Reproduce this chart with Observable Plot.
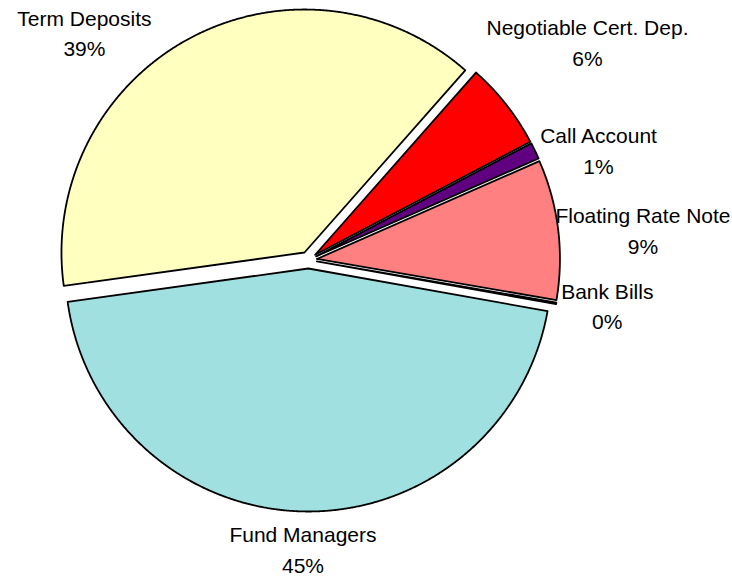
<!DOCTYPE html>
<html><head><meta charset="utf-8">
<script src="https://cdn.jsdelivr.net/npm/d3@7"></script>
<script src="https://cdn.jsdelivr.net/npm/@observablehq/plot@0.6"></script>
<style>html,body{margin:0;padding:0;background:#fff}</style>
</head><body><div id="chart"></div>
<script>
// ---- data ----
const categories = ["Term Deposits", "Negotiable Cert. Dep.", "Call Account", "Floating Rate Note", "Bank Bills", "Fund Managers"];
const values = [38.7, 5.8, 1.1, 9.3, 0.1, 45.0];
const colors = ["#ffffc0", "#ff0000", "#600080", "#ff8080", "#ccccff", "#a0e0e0"];

// ---- layout ----
const W = 732, H = 578;
const L = {cx: 308, cy: 259.5, r: 243, explode: 8.5, startDeg: 262.1, gap: 5, fontSize: 21, lineHeight: 1.45,
  marginX: 2, marginY: 5, font: "Liberation Sans, Arial, sans-serif"};

const total = d3.sum(values);
const data = categories.map((name, i) => ({name, value: values[i], color: colors[i]}));
const a0 = L.startDeg * Math.PI / 180;
const arcs = d3.pie().sort(null).value(d => d.value).startAngle(a0).endAngle(a0 + 2 * Math.PI)(data);

const ctx = document.createElement("canvas").getContext("2d");
ctx.font = `${L.fontSize}px "Liberation Sans"`;

const slices = arcs.map(a => {
  const mid = (a.startAngle + a.endAngle) / 2;
  const ax = L.cx + L.explode * Math.sin(mid), ay = L.cy - L.explode * Math.cos(mid);
  const n = Math.max(2, Math.ceil((a.endAngle - a.startAngle) / (0.25 * Math.PI / 180)));
  const pts = [{x: ax, y: ay}];
  for (let k = 0; k <= n; k++) {
    const t = a.startAngle + (a.endAngle - a.startAngle) * k / n;
    pts.push({x: ax + L.r * Math.sin(t), y: ay - L.r * Math.cos(t)});
  }
  pts.push({x: ax, y: ay});
  return {name: a.data.name, color: a.data.color, value: a.data.value, mid, ax, ay, pts};
});

// label placement: outside along the mid-angle; side labels are centred vertically on their anchor,
// others sit clear of the rim; then kept inside the frame (sliding along the edge to stay clear of the pie)
const labels = slices.map(s => {
  const pct = Math.round(s.value / total * 100) + "%";
  const lines = [s.name, pct];
  const w = Math.max(...lines.map(t => ctx.measureText(t).width));
  const lh = L.fontSize * L.lineHeight;
  const hw = w / 2, hh = lines.length * lh / 2;           // line box
  const gh = ((lines.length - 1) * lh + L.fontSize) / 2;  // glyph box
  const sx = Math.sin(s.mid), sy = -Math.cos(s.mid);
  let x, y;
  if (Math.abs(sy) < 0.5) {
    const px = s.ax + (L.r + L.gap) * sx, py = s.ay + (L.r + L.gap) * sy;
    x = px + Math.sign(sx) * hw; y = py;
  } else {
    const d = L.r + L.gap + Math.abs(sx) * hw + Math.abs(sy) * hh;
    x = s.ax + d * sx; y = s.ay + d * sy;
  }
  const clampX = v => Math.min(W - L.marginX - hw, Math.max(L.marginX + hw, v));
  const clampY = v => Math.min(H - L.marginY - gh, Math.max(L.marginY + gh, v));
  x = clampX(x);
  const y0 = y; y = clampY(y);
  if (y !== y0) {
    const hits = (x, y) => {
      const px = Math.min(x + hw, Math.max(x - hw, s.ax));
      const py = Math.min(y + gh, Math.max(y - gh, s.ay));
      return Math.hypot(px - s.ax, py - s.ay) < L.r + L.gap;
    };
    const dir = x < s.ax ? -1 : 1;
    for (let k = 0; k < 400 && hits(x, y); k++) {
      const nx = clampX(x + dir);
      if (nx === x) break;
      x = nx;
    }
  }
  return {x, y, text: lines.join("\n")};
});

const marks = slices.map(s => Plot.line(s.pts, {
  x: "x", y: "y", fill: s.color, stroke: "black", strokeWidth: 1.8, strokeLinejoin: "round", curve: "linear"
}));
marks.push(Plot.text(labels, {
  x: "x", y: "y", text: "text", fontSize: L.fontSize, lineHeight: L.lineHeight, fontFamily: L.font,
  fill: "#000", textAnchor: "middle", lineAnchor: "middle"
}));

const chart = Plot.plot({
  width: W, height: H, margin: 0,
  x: {domain: [0, W], range: [0, W], axis: null},
  y: {domain: [0, H], range: [0, H], axis: null},
  style: {background: "#fff"},
  marks
});
document.getElementById("chart").appendChild(chart);
</script>
</body></html>
